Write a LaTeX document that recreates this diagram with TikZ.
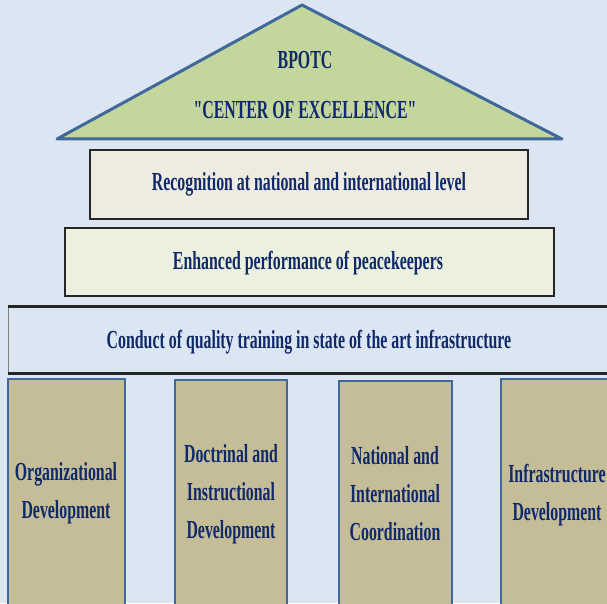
\documentclass[tikz,border=0pt]{standalone}
\usepackage{fontspec}
\newfontfamily\condfont{Liberation Serif}[FakeStretch=0.61]
\definecolor{bgblue}{HTML}{DCE6F2}
\definecolor{roofgreen}{HTML}{C3D69B}
\definecolor{edgeblue}{HTML}{41689B}
\definecolor{pillartan}{HTML}{C4BD97}
\definecolor{textnavy}{HTML}{10296A}
\definecolor{beamcream}{HTML}{EEECE1}
\definecolor{beamgreen}{HTML}{EBF1DE}
\begin{document}
\begin{tikzpicture}[x=1pt, y=1pt,
        word/.style={text=textnavy, align=center, font=\condfont\bfseries\fontsize{26}{38}\selectfont},
        beam/.style={draw=black!85, line width=2.5},
        pillar/.style={fill=pillartan, draw=edgeblue, line width=2.5}]
        \fill[bgblue] (0,0) rectangle (607,603);
        \useasboundingbox (0,0) rectangle (607,603);
        % roof
        \draw[fill=roofgreen, draw=edgeblue, line width=3, line join=round] (57,464) -- (302,598) -- (562,464) -- cycle;
        \node[word] (name) at (305,543) {BPOTC};
        \node[word] (motto) at (305,493) {"CENTER OF EXCELLENCE"};
        % beams
        \draw[beam, fill=beamcream] (90,384) rectangle (528,453);
        \node[word] (recognition) at (309,419) {Recognition at national and international level};
        \draw[beam, fill=beamgreen] (65,307) rectangle (554,375);
        \node[word] (performance) at (308,340) {Enhanced performance of peacekeepers};
        \draw[gray, line width=0.8] (8,230) -- (8,297);
        \draw[beam, line width=3] (8,297) -- (612,297);
        \draw[beam, line width=3] (8,230) -- (612,230);
        \node[word] (training) at (309,261) {Conduct of quality training in state of the art infrastructure};
        % pillars
        \draw[pillar] (8,-5) rectangle (125,224);
        \draw[pillar] (175,-5) rectangle (287,223);
        \draw[pillar] (339,-5) rectangle (452,222);
        \draw[pillar] (501,-5) rectangle (612,224);
        \node[word] (org) at (66,110) {Organizational\\Development};
        \node[word] (doctrine) at (231,109) {Doctrinal and\\Instructional\\Development};
        \node[word] (coord) at (395,109) {National and\\International\\Coordination};
        \node[word] (infra) at (557,108) {Infrastructure\\Development};
\end{tikzpicture}
\end{document}
